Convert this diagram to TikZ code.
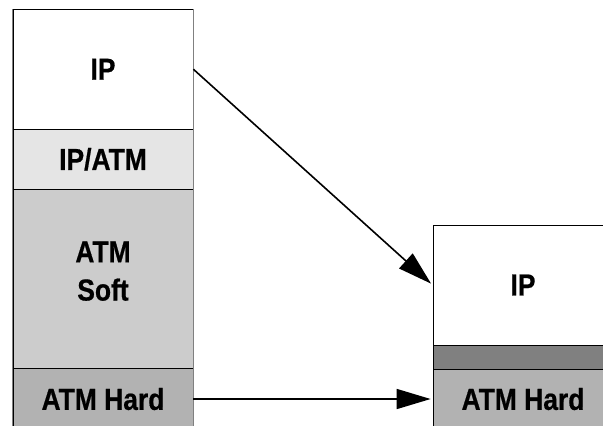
\documentclass[tikz,border=0pt]{standalone}
\usepackage{fontspec}
\setmainfont{Liberation Sans}[FakeStretch=0.87,BoldFeatures={FakeBold=0.6}]
\usepackage{tikz}
\usetikzlibrary{arrows.meta,positioning}
\definecolor{ipatm}{gray}{0.9}
\definecolor{soft}{gray}{0.8}
\definecolor{hard}{gray}{0.7}
\definecolor{band}{gray}{0.5}
\tikzset{layer/.style={rectangle,draw=black,line width=0.8bp,minimum width=180bp,inner sep=0pt,
    font=\fontsize{30.5}{38.3}\selectfont\bfseries,align=center}}

\begin{document}
\begin{tikzpicture}[x=1bp,y=-1bp,>={Triangle[length=34bp,width=20bp]}]
    \useasboundingbox (0,0) rectangle (603,425);
    % left stack
    \node[layer,fill=white,minimum height=119.5bp] (ipL) at (103,69.25) {IP};
    \node[layer,fill=ipatm,minimum height=60.5bp] (ipatmL) at (103,159.25) {IP/ATM};
    \node[layer,fill=soft,minimum height=179.5bp,text depth=16.5bp] (softL) at (103,279.25) {ATM\\Soft};
    \node[layer,fill=hard,minimum height=62bp] (hardL) at (103,399) {ATM Hard};
    \draw[gray,line width=1bp] (ipL.north west) -- (hardL.south west);
    \draw[gray,line width=1bp] (ipL.north east) -- (hardL.south east);
    % right stack
    \node[layer,fill=white,minimum height=120bp] (ipR) at (523,285) {IP};
    \node[layer,fill=band,minimum height=24bp] (bandR) at (523,357) {};
    \node[layer,fill=hard,minimum height=60bp] (hardR) at (523,399) {ATM Hard};

    \draw[->,line width=1.6bp,shorten >=2bp] (ipL.east) to (ipR.west);
    \draw[->,line width=1.6bp,shorten >=2bp] (hardL.east) to (hardR.west);
\end{tikzpicture}
\end{document}
